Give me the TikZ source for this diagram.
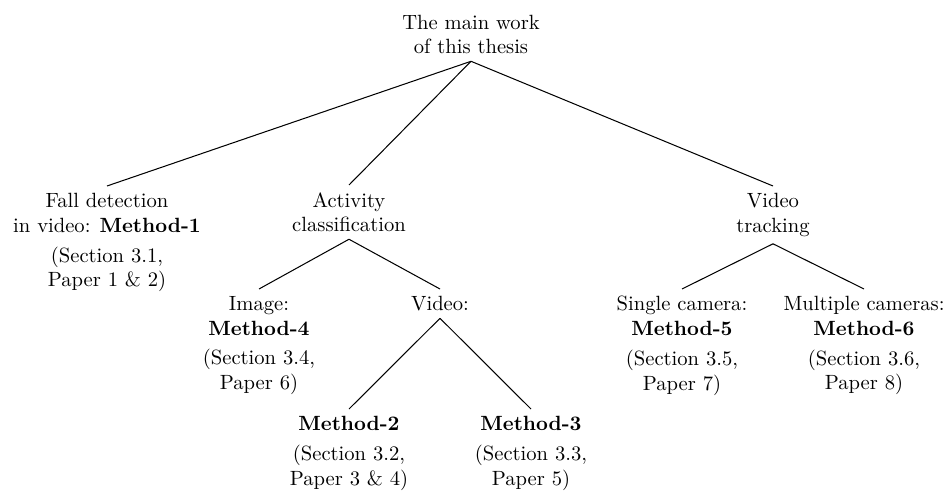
\documentclass[tikz,border=0pt]{standalone}
\begin{document}
\begin{tikzpicture}[x=0.4854pt,y=-0.4854pt,
  tnode/.style={anchor=north,align=center,inner sep=3.33pt},
  tedge/.style={draw=black,line width=0.5pt}]
\useasboundingbox (0,0) rectangle (948,491);
\node[tnode] (root) at (471,7.5) {The main work\\of this thesis};
\node[tnode] (fall) at (107,186) {Fall detection\\in video: \textbf{Method-1}\\[2.5pt](Section 3.1,\\Paper 1 \& 2)};
\node[tnode] (act) at (349,185) {Activity\\classification};
\node[tnode] (vt) at (773,186) {Video\\tracking};
\node[tnode] (img) at (259,289) {Image:\\\textbf{Method-4}\\[2.5pt](Section 3.4,\\Paper 6)};
\node[tnode] (vid) at (440,289) {Video:};
\node[tnode] (single) at (682,289) {Single camera:\\\textbf{Method-5}\\[2.5pt](Section 3.5,\\Paper 7)};
\node[tnode] (multi) at (864,289) {Multiple cameras:\\\textbf{Method-6}\\[2.5pt](Section 3.6,\\Paper 8)};
\node[tnode] (m2) at (349,409) {\textbf{Method-2}\\[2.5pt](Section 3.2,\\Paper 3 \& 4)};
\node[tnode] (m3) at (531,409) {\textbf{Method-3}\\[2.5pt](Section 3.3,\\Paper 5)};
\draw[tedge] (root.south) -- (fall.north);
\draw[tedge] (root.south) -- (act.north);
\draw[tedge] (root.south) -- (vt.north);
\draw[tedge] (act.south) -- (img.north);
\draw[tedge] (act.south) -- (vid.north);
\draw[tedge] (vid.south) -- (m2.north);
\draw[tedge] (vid.south) -- (m3.north);
\draw[tedge] (vt.south) -- (single.north);
\draw[tedge] (vt.south) -- (multi.north);
\end{tikzpicture}
\end{document}
